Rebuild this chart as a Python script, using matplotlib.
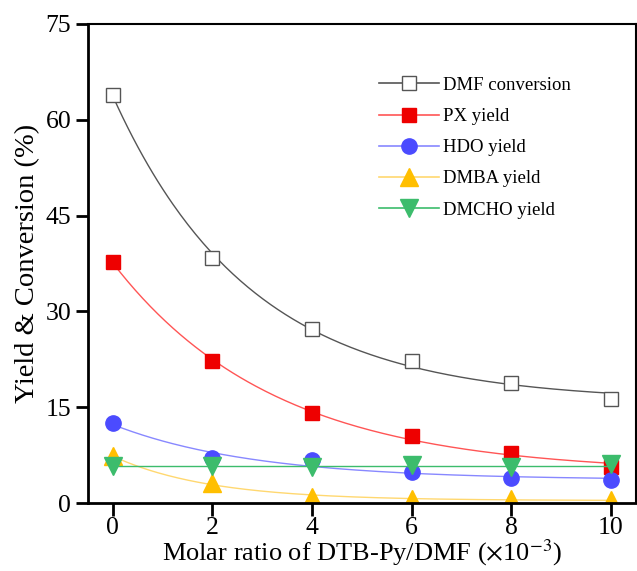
import numpy as np
from matplotlib import pyplot as plt

plt.rcParams['font.family'] = ['Liberation Serif', 'DejaVu Serif']
plt.rcParams['mathtext.fontset'] = 'stix'

# data
ratio = [0, 2, 4, 6, 8, 10]
dmf_conv = [63.9, 38.4, 27.3, 22.3, 18.8, 16.3]
px_yield = [37.7, 22.2, 14.1, 10.5, 7.9, 5.6]
hdo_yield = [12.5, 7.0, 6.7, 4.8, 4.0, 3.6]
dmba_yield = [7.3, 3.1, 0.9, 0.7, 0.6, 0.5]
dmcho_yield = [5.8, 5.8, 5.6, 5.9, 5.6, 6.1]

x_ticks = [0, 2, 4, 6, 8, 10]
y_ticks = [0, 15, 30, 45, 60, 75]


def exp_fit(x, y):
    # y = a*exp(-b*x) + c, grid search on b, least squares on a, c
    x = np.asarray(x, float)
    y = np.asarray(y, float)
    best = None
    for b in np.linspace(0.02, 2.0, 400):
        A = np.column_stack([np.exp(-b * x), np.ones_like(x)])
        coef, *_ = np.linalg.lstsq(A, y, rcond=None)
        err = np.sum((A @ coef - y) ** 2)
        if best is None or err < best[0]:
            best = (err, b, coef)
    _, b, (a, c) = best
    xs = np.linspace(x.min(), x.max(), 200)
    return xs, a * np.exp(-b * xs) + c


fig = plt.figure(figsize=(6.37, 5.71), dpi=100)
ax = fig.add_axes([0.138, 0.119, 0.860, 0.839])

series = [
    (dmf_conv, 'DMF conversion', '#555555', '#555555', 's', 'white', 10.5),
    (px_yield, 'PX yield', '#ff5555', '#ee0000', 's', '#ee0000', 10.5),
    (hdo_yield, 'HDO yield', '#8888ff', '#4b4bff', 'o', '#4b4bff', 11),
    (dmba_yield, 'DMBA yield', '#ffd870', '#ffbf00', '^', '#ffbf00', 12.5),
]

for y, lab, lc, mc, mk, fc, ms in series:
    xs, ys = exp_fit(ratio, y)
    ax.plot(xs, ys, color=lc, lw=1)
    ax.plot(ratio, y, ls='none', marker=mk, ms=ms, mfc=fc, mec=mc, mew=1)
    ax.plot([], [], color=lc, lw=1.2, marker=mk, ms=ms, mfc=fc, mec=mc, label=lab)

mean_dmcho = np.mean(dmcho_yield)
ax.plot([ratio[0], ratio[-1]], [mean_dmcho, mean_dmcho], color='#3cbc6c', lw=1)
ax.plot(ratio, dmcho_yield, ls='none', marker='v', ms=12.5, mfc='#3cbc6c', mec='#3cbc6c')
ax.plot([], [], color='#3cbc6c', lw=1.2, marker='v', ms=12.5, mfc='#3cbc6c',
        mec='#3cbc6c', label='DMCHO yield')

ax.set_xlim(-0.5, 10.5)
ax.set_ylim(0, 75)
ax.set_xticks(x_ticks)
ax.set_yticks(y_ticks)
ax.tick_params(direction='out', length=9, width=2, labelsize=18.5, pad=3)
ax.tick_params(axis='x', pad=1)
for s in ax.spines.values():
    s.set_linewidth(1.5)
ax.spines['left'].set_linewidth(2)
ax.spines['bottom'].set_linewidth(2)

ax.set_xlabel(r'Molar ratio of DTB-Py/DMF ($\times$10$^{-3}$)', fontsize=19, labelpad=-1)
ax.set_ylabel('Yield & Conversion (%)', fontsize=20.5, labelpad=4)

ax.legend(loc='upper left', bbox_to_anchor=(0.5, 0.925), frameon=False,
          fontsize=13.5, handlelength=3.2, labelspacing=0.75, handletextpad=0.25)

fig.savefig('out.png', dpi=100)
